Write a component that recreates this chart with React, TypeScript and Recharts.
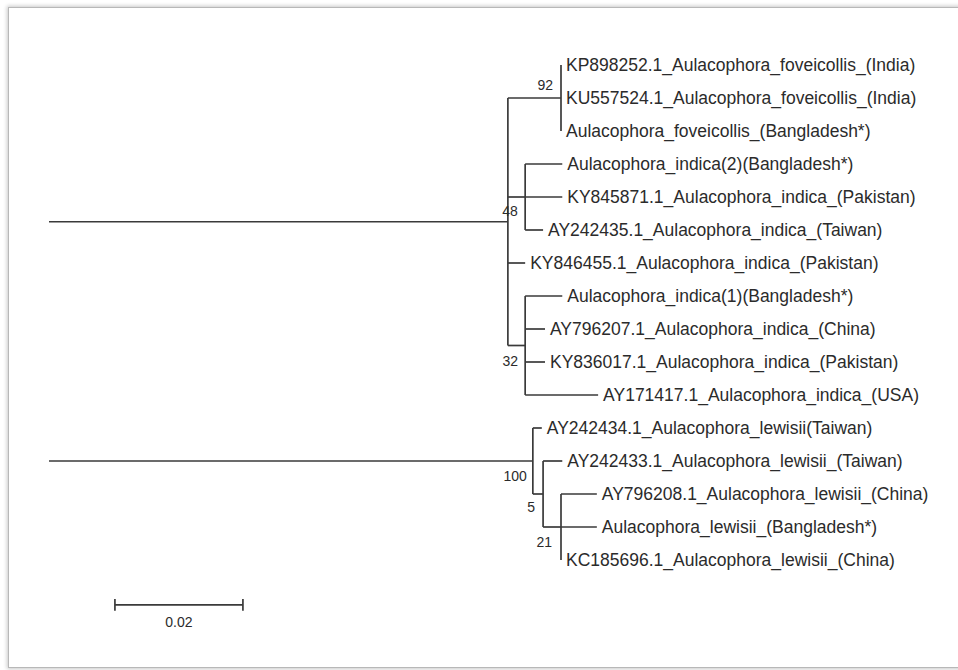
import { ComposedChart, ReferenceLine, Scatter, XAxis, YAxis } from "recharts"

// tip labels, top to bottom
const taxa = [
  "KP898252.1_Aulacophora_foveicollis_(India)",
  "KU557524.1_Aulacophora_foveicollis_(India)",
  "Aulacophora_foveicollis_(Bangladesh*)",
  "Aulacophora_indica(2)(Bangladesh*)",
  "KY845871.1_Aulacophora_indica_(Pakistan)",
  "AY242435.1_Aulacophora_indica_(Taiwan)",
  "KY846455.1_Aulacophora_indica_(Pakistan)",
  "Aulacophora_indica(1)(Bangladesh*)",
  "AY796207.1_Aulacophora_indica_(China)",
  "KY836017.1_Aulacophora_indica_(Pakistan)",
  "AY171417.1_Aulacophora_indica_(USA)",
  "AY242434.1_Aulacophora_lewisii(Taiwan)",
  "AY242433.1_Aulacophora_lewisii_(Taiwan)",
  "AY796208.1_Aulacophora_lewisii_(China)",
  "Aulacophora_lewisii_(Bangladesh*)",
  "KC185696.1_Aulacophora_lewisii_(China)",
]
// internal node each tip hangs from, and its distance from the root
const tipParent = [2, 2, 2, 3, 3, 3, 1, 4, 4, 4, 4, 5, 6, 7, 7, 7]
const tipDepth = [
  0.08, 0.08, 0.08, 0.0802, 0.0802, 0.0772, 0.0744, 0.0802,
  0.0775, 0.0775, 0.0858, 0.077, 0.0802, 0.0856, 0.0856, 0.08,
]
// internal nodes (0 = root)
const nodeParent = [-1, 0, 1, 1, 1, 0, 5, 6]
const nodeDepth = [0, 0.0717, 0.08, 0.0744, 0.0744, 0.0756, 0.0772, 0.08]
const bootstrap = [null, 48, 92, null, 32, 100, 5, 21]
const scaleBar = 0.02

// where the bootstrap number sits relative to its node (px)
const bsOffset: Record<number, [number, number]> = {
  1: [10, -6],
  2: [-8, -8],
  4: [-7, 20],
  5: [-6, 20],
  6: [-8, 18],
  7: [-9, 20],
}

const LINE = "#3a3a3a"
const TEXT = "#2b2b2b"
const FONT = "'Liberation Sans', Arial, sans-serif"

function layout() {
  const nodeY: number[] = []
  const childYs = (n: number): number[] => {
    const ys: number[] = []
    tipParent.forEach((p, i) => p === n && ys.push(i))
    nodeParent.forEach((p, i) => p === n && ys.push(getY(i)))
    return ys
  }
  const getY = (n: number): number => {
    if (nodeY[n] !== undefined) return nodeY[n]
    const ys = childYs(n)
    nodeY[n] = (Math.min(...ys) + Math.max(...ys)) / 2
    return nodeY[n]
  }
  nodeParent.forEach((_, i) => getY(i))

  const segs: { x1: number; y1: number; x2: number; y2: number }[] = []
  tipParent.forEach((p, i) => {
    if (tipDepth[i] > nodeDepth[p]) segs.push({ x1: nodeDepth[p], y1: i, x2: tipDepth[i], y2: i })
  })
  nodeParent.forEach((p, i) => {
    if (p < 0) return
    segs.push({ x1: nodeDepth[p], y1: nodeY[i], x2: nodeDepth[i], y2: nodeY[i] })
    const ys = childYs(i)
    segs.push({ x1: nodeDepth[i], y1: Math.min(...ys), x2: nodeDepth[i], y2: Math.max(...ys) })
  })
  return { nodeY, segs }
}

export default function App() {
  const { nodeY, segs } = layout()
  const tips = taxa.map((name, i) => ({ x: tipDepth[i], y: i, name }))
  const bsPoints = bootstrap
    .map((b, i) => ({ x: nodeDepth[i], y: nodeY[i], b, id: i }))
    .filter((d) => d.b !== null)
  const barY = 16.36
  const barX = 0.0103

  return (
    <div style={{ position: "fixed", left: 0, top: 0, width: 958, height: 670, background: "#fff", overflow: "hidden" }}>
      <div
        style={{
          position: "absolute",
          left: 8,
          top: 7,
          width: 980,
          height: 659,
          border: "1px solid #b8b8b8",
          boxShadow: "0 0 4px 1px rgba(0,0,0,0.22)",
          background: "#fff",
        }}
      />
      <div style={{ position: "absolute", left: 0, top: 0 }}>
        <ComposedChart width={958} height={670} margin={{ top: 65, right: 269, bottom: 44, left: 49 }}>
          <XAxis type="number" dataKey="x" domain={[0, 0.1]} tickCount={5} hide />
          <YAxis type="number" dataKey="y" domain={[0, 17]} tickCount={18} reversed hide />
          {segs.map((s, i) => (
            <ReferenceLine
              key={i}
              segment={[{ x: s.x1, y: s.y1 }, { x: s.x2, y: s.y2 }]}
              stroke={LINE}
              strokeWidth={1.7}
              ifOverflow="visible"
            />
          ))}
          <ReferenceLine segment={[{ x: barX, y: barY }, { x: barX + scaleBar, y: barY }]} stroke={LINE} strokeWidth={1.7} ifOverflow="visible" />
          <ReferenceLine segment={[{ x: barX, y: barY - 0.18 }, { x: barX, y: barY + 0.18 }]} stroke={LINE} strokeWidth={1.7} ifOverflow="visible" />
          <ReferenceLine segment={[{ x: barX + scaleBar, y: barY - 0.18 }, { x: barX + scaleBar, y: barY + 0.18 }]} stroke={LINE} strokeWidth={1.7} ifOverflow="visible" />
          <Scatter
            data={tips}
            isAnimationActive={false}
            shape={(p: any) => (
              <text x={p.cx + 5} y={p.cy} dy="0.35em" fontSize={17.5} fill={TEXT} fontFamily={FONT}>
                {p.payload.name}
              </text>
            )}
          />
          <Scatter
            data={bsPoints}
            isAnimationActive={false}
            shape={(p: any) => {
              const [dx, dy] = bsOffset[p.payload.id] || [-6, -6]
              return (
                <text x={p.cx + dx} y={p.cy + dy} textAnchor="end" fontSize={14} fill={TEXT} fontFamily={FONT}>
                  {p.payload.b}
                </text>
              )
            }}
          />
          <Scatter
            data={[{ x: barX + scaleBar / 2, y: barY, label: String(scaleBar) }]}
            isAnimationActive={false}
            shape={(p: any) => (
              <text x={p.cx} y={p.cy + 22} textAnchor="middle" fontSize={14} fill={TEXT} fontFamily={FONT}>
                {p.payload.label}
              </text>
            )}
          />
        </ComposedChart>
      </div>
    </div>
  )
}
